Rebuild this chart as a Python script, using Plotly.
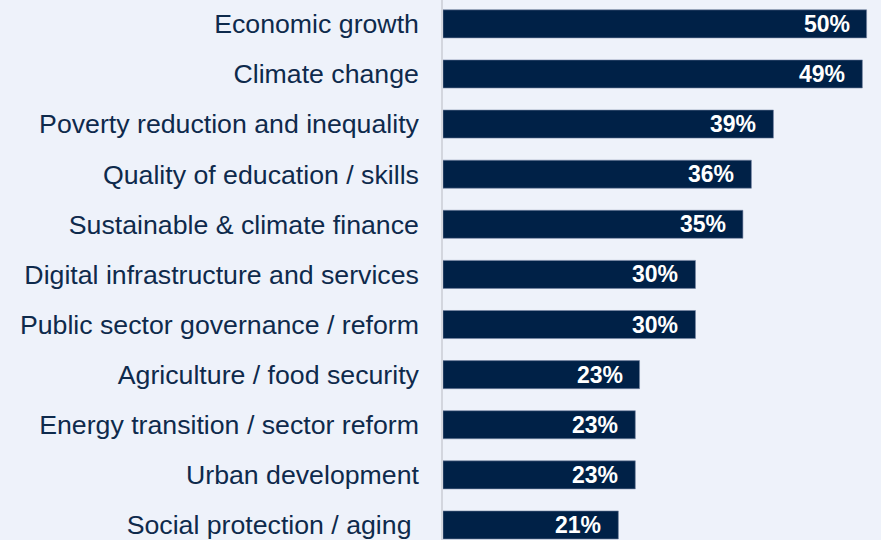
import plotly.graph_objects as go

categories = [
    "Economic growth",
    "Climate change",
    "Poverty reduction and inequality",
    "Quality of education / skills",
    "Sustainable & climate finance",
    "Digital infrastructure and services",
    "Public sector governance / reform",
    "Agriculture / food security",
    "Energy transition / sector reform",
    "Urban development",
    "Social protection / aging\u00a0",
]
values = [50.0, 49.5, 39.0, 36.4, 35.4, 29.8, 29.8, 23.2, 22.7, 22.7, 20.7]
value_labels = ["50%", "49%", "39%", "36%", "35%", "30%", "30%", "23%", "23%", "23%", "21%"]

BAR = "#002147"
BG = "#eef2fa"
TXT = "#0e2a4c"
FONT = "Arial, Liberation Sans, sans-serif"

fig = go.Figure()
fig.add_trace(go.Bar(
    y=categories,
    x=values,
    orientation="h",
    marker=dict(color=BAR, line=dict(color="#7585a3", width=0.6)),
    hoverinfo="skip",
))

for c, v, t in zip(categories, values, value_labels):
    fig.add_annotation(
        x=v, y=c, xref="x", yref="y",
        text="<b>%s</b>" % t,
        showarrow=False,
        xanchor="right", yanchor="middle",
        xshift=-15,
        font=dict(family=FONT, size=23, color="white"),
    )

fig.update_layout(
    width=881, height=540,
    margin=dict(l=443, r=0, t=0, b=0),
    paper_bgcolor=BG, plot_bgcolor=BG,
    bargap=0.44,
    showlegend=False,
    font=dict(family=FONT, color=TXT),
)
fig.update_xaxes(
    range=[0, 51.7], visible=False, showgrid=False, zeroline=False,
)
fig.update_yaxes(
    range=[10.30, -0.476],
    showgrid=False, zeroline=False,
    showline=True, linecolor="#d3d6de", linewidth=1.5,
    ticks="", ticklabelstandoff=17,
    tickfont=dict(family=FONT, size=26.7, color=TXT),
)

fig.write_html(
    "out.html",
    config={"displayModeBar": False},
    post_script="document.body.style.margin='0';document.body.style.background='%s';" % BG,
)
